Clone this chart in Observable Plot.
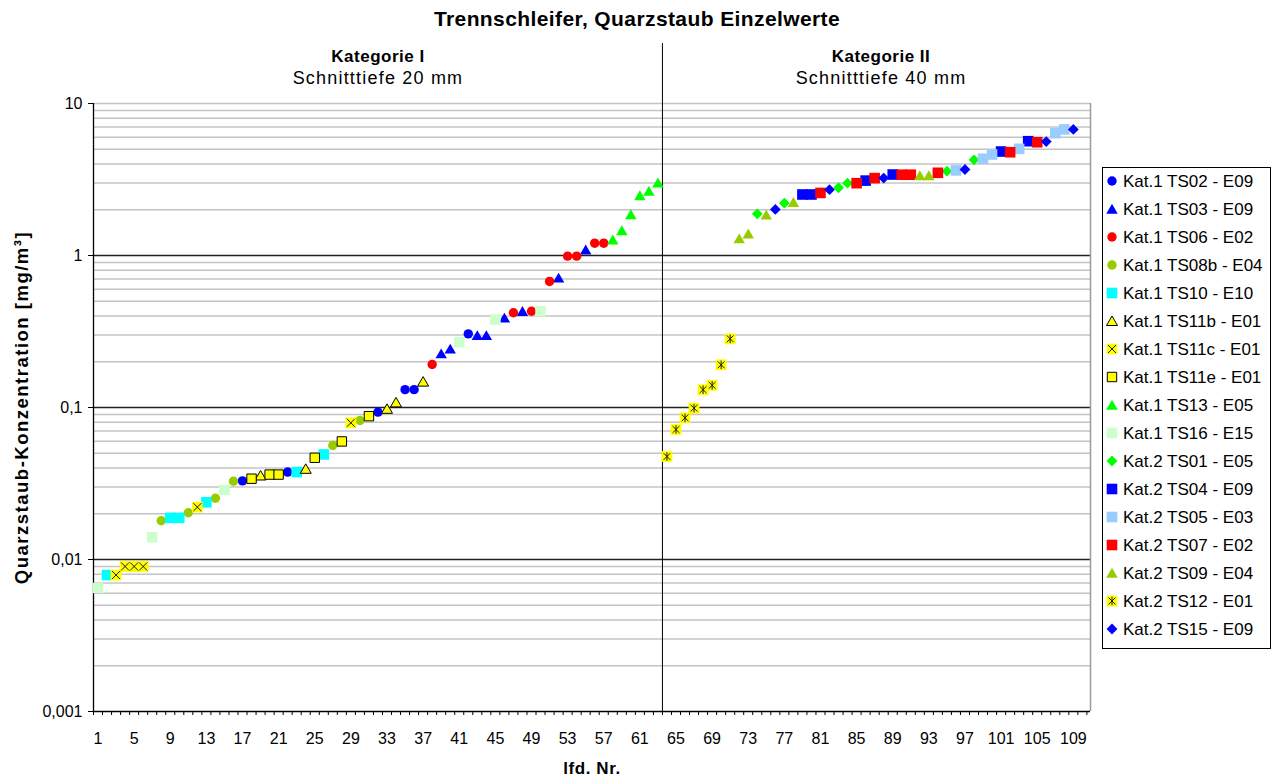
<!DOCTYPE html>
<html>
<head>
<meta charset="utf-8">
<script src="https://cdn.jsdelivr.net/npm/d3@7"></script>
<script src="https://cdn.jsdelivr.net/npm/@observablehq/plot@0.6"></script>
<style>
  body { margin: 0; background: #fff; font-family: "Liberation Sans", Arial, sans-serif; }
  #chart { position: relative; width: 1274px; height: 778px; overflow: hidden; }
  #title { position: absolute; left: 0; top: 7px; width: 1274px; text-align: center;
           font-weight: bold; font-size: 21px; letter-spacing: 0.4px; color: #000; }
</style>
</head>
<body>
<div id="chart">
  <div id="title">Trennschleifer, Quarzstaub Einzelwerte</div>
</div>
<script>
// Series (legend order)
const seriesKeys = ["TS02", "TS03", "TS06", "TS08b", "TS10", "TS11b", "TS11c", "TS11e", "TS13", "TS16",
                    "TS01", "TS04", "TS05", "TS07", "TS09", "TS12", "TS15"];
const seriesLabels = ["Kat.1 TS02 - E09", "Kat.1 TS03 - E09", "Kat.1 TS06 - E02", "Kat.1 TS08b - E04",
                      "Kat.1 TS10 - E10", "Kat.1 TS11b - E01", "Kat.1 TS11c - E01", "Kat.1 TS11e - E01",
                      "Kat.1 TS13 - E05", "Kat.1 TS16 - E15", "Kat.2 TS01 - E05", "Kat.2 TS04 - E09",
                      "Kat.2 TS05 - E03", "Kat.2 TS07 - E02", "Kat.2 TS09 - E04", "Kat.2 TS12 - E01",
                      "Kat.2 TS15 - E09"];

// Individual measurements, lfd. Nr. 1..109 in order
const pointSeries = [
  "TS16", "TS10", "TS11c", "TS11c", "TS11c", "TS11c", "TS16", "TS08b", "TS10", "TS10",
  "TS08b", "TS11c", "TS10", "TS08b", "TS16", "TS08b", "TS02", "TS11e", "TS11b", "TS11e",
  "TS11e", "TS02", "TS10", "TS11b", "TS11e", "TS10", "TS08b", "TS11e", "TS11c", "TS08b",
  "TS11e", "TS02", "TS11b", "TS11b", "TS02", "TS02", "TS11b", "TS06", "TS03", "TS03",
  "TS16", "TS02", "TS03", "TS03", "TS16", "TS03", "TS06", "TS03", "TS06", "TS16",
  "TS06", "TS03", "TS06", "TS06", "TS03", "TS06", "TS06", "TS13", "TS13", "TS13",
  "TS13", "TS13", "TS13",
  "TS12", "TS12", "TS12", "TS12", "TS12", "TS12", "TS12", "TS12", "TS09", "TS09",
  "TS01", "TS09", "TS15", "TS01", "TS09", "TS04", "TS04", "TS07", "TS15", "TS01",
  "TS01", "TS07", "TS04", "TS07", "TS15", "TS04", "TS07", "TS07", "TS09", "TS09",
  "TS07", "TS01", "TS05", "TS15", "TS01", "TS05", "TS05", "TS04", "TS07", "TS05",
  "TS04", "TS07", "TS15", "TS05", "TS05", "TS15"
];
const pointValues = [
  0.0065, 0.0079, 0.0079, 0.009, 0.009, 0.009, 0.014, 0.018, 0.0188, 0.0188,
  0.0203, 0.0221, 0.0238, 0.0253, 0.0287, 0.0327, 0.0329, 0.034, 0.0357, 0.0362,
  0.0362, 0.0376, 0.0376, 0.0395, 0.0467, 0.0491, 0.0562, 0.0598, 0.0793, 0.0821,
  0.0877, 0.0932, 0.098, 0.108, 0.131, 0.131, 0.148, 0.192, 0.226, 0.243,
  0.269, 0.305, 0.298, 0.298, 0.379, 0.389, 0.42, 0.43, 0.43, 0.43,
  0.675, 0.713, 0.99, 0.99, 1.09, 1.205, 1.205, 1.27, 1.46, 1.86,
  2.48, 2.65, 3.01,
  0.0476, 0.0717, 0.0855, 0.099, 0.131, 0.14, 0.191, 0.283, 1.29, 1.39,
  1.88, 1.85, 2.01, 2.21, 2.24, 2.52, 2.52, 2.58, 2.71, 2.79,
  2.99, 2.99, 3.11, 3.23, 3.23, 3.41, 3.4, 3.4, 3.36, 3.36,
  3.5, 3.59, 3.63, 3.68, 4.26, 4.33, 4.62, 4.83, 4.78, 5.03,
  5.65, 5.56, 5.62, 6.38, 6.75, 6.75
];

// Category groups (by lfd. Nr.)
const groupTitles = ["Kategorie I", "Kategorie II"];
const groupSubtitles = ["Schnitttiefe 20 mm", "Schnitttiefe 40 mm"];
const groupRanges = [[1, 63], [64, 109]];

// Axis ticks
const yTicks = [0.001, 0.01, 0.1, 1, 10];
const yTickLabels = ["0,001", "0,01", "0,1", "1", "10"];
const xTickLabels = [1, 5, 9, 13, 17, 21, 25, 29, 33, 37, 41, 45, 49, 53, 57, 61, 65, 69, 73, 77, 81, 85, 89, 93, 97, 101, 105, 109];

const xTitle = "lfd. Nr.";
const yTitle = "Quarzstaub-Konzentration [mg/m³]";

// Marker shapes in the style of spreadsheet chart markers; r = half width
const rOf = size => Math.sqrt(size / Math.PI);
const shapes = {
  circle: {draw(c, s) { const r = rOf(s); c.moveTo(r, 0); c.arc(0, 0, r, 0, 2 * Math.PI); }},
  square: {draw(c, s) { const r = rOf(s); c.rect(-r, -r, 2 * r, 2 * r); }},
  triangle: {draw(c, s) { const r = rOf(s); c.moveTo(0, -r); c.lineTo(r * 1.1, r * 0.9); c.lineTo(-r * 1.1, r * 0.9); c.closePath(); }},
  diamond: {draw(c, s) { const r = rOf(s); c.moveTo(0, -r); c.lineTo(r, 0); c.lineTo(0, r); c.lineTo(-r, 0); c.closePath(); }},
  cross: {draw(c, s) { const r = rOf(s); c.moveTo(-r, -r); c.lineTo(r, r); c.moveTo(-r, r); c.lineTo(r, -r); }},
  star: {draw(c, s) { const r = rOf(s); c.moveTo(0, -r); c.lineTo(0, r); c.moveTo(-r * 0.8, -r * 0.8); c.lineTo(r * 0.8, r * 0.8); c.moveTo(-r * 0.8, r * 0.8); c.lineTo(r * 0.8, -r * 0.8); }}
};

const styles = {
  TS02:  {shape: "circle",   fill: "#0000FF", r: 4.7},
  TS03:  {shape: "triangle", fill: "#0000FF", r: 5.2},
  TS06:  {shape: "circle",   fill: "#FF0000", r: 4.7},
  TS08b: {shape: "circle",   fill: "#99CC00", r: 4.7},
  TS10:  {shape: "square",   fill: "#00FFFF", r: 5.3},
  TS11b: {shape: "triangle", fill: "#FFFF00", stroke: "#000", r: 5.0},
  TS11c: {shape: "square",   fill: "#FFFF00", r: 5.4, overlay: "cross", overlayR: 4},
  TS11e: {shape: "square",   fill: "#FFFF00", stroke: "#000", r: 4.7},
  TS13:  {shape: "triangle", fill: "#00FF00", r: 5.2},
  TS16:  {shape: "square",   fill: "#CCFFCC", r: 5.3},
  TS01:  {shape: "diamond",  fill: "#00FF00", r: 5.4},
  TS04:  {shape: "square",   fill: "#0000FF", r: 5.3},
  TS05:  {shape: "square",   fill: "#99CCFF", r: 5.3},
  TS07:  {shape: "square",   fill: "#FF0000", r: 5.3},
  TS09:  {shape: "triangle", fill: "#99CC00", r: 5.2},
  TS12:  {shape: "square",   fill: "#FFFF00", r: 5.4, overlay: "star", overlayR: 4.3},
  TS15:  {shape: "diamond",  fill: "#0000FF", r: 5.4}
};

const rows = pointValues.map((value, i) => ({nr: i + 1, value, series: pointSeries[i]}));

const xDomain = [0.5, 110.9];
const divider = (groupRanges[0][1] + groupRanges[1][0]) / 2;
const groups = groupTitles.map((title, i) => ({
  title,
  subtitle: groupSubtitles[i],
  center: i === 0 ? (xDomain[0] + divider) / 2 : (divider + xDomain[1]) / 2 + 0.5
}));

// Light grid lines for 2..9 within each decade, darker ones at the decades
const minorGrid = yTicks.slice(0, -1).flatMap(d => d3.range(2, 10).map(k => k * d));
const xBoundaries = d3.range(xDomain[0], 111, 1);

const seriesMarks = seriesKeys.flatMap(key => {
  const st = styles[key];
  const data = rows.filter(d => d.series === key);
  const marks = [Plot.dot(data, {
    x: "nr", y: "value", symbol: shapes[st.shape], r: st.r,
    fill: st.fill, stroke: st.stroke || "none", strokeWidth: 1
  })];
  if (st.overlay) {
    marks.push(Plot.dot(data, {
      x: "nr", y: "value", symbol: shapes[st.overlay], r: st.overlayR,
      fill: "none", stroke: "#1a1a1a", strokeWidth: 1
    }));
  }
  return marks;
});

const chart = Plot.plot({
  width: 1274,
  height: 778,
  marginLeft: 93,
  marginRight: 184,
  marginTop: 103,
  marginBottom: 67,
  style: {fontFamily: "'Liberation Sans', Arial, sans-serif", color: "#000", background: "transparent",
          position: "absolute", left: "0px", top: "0px"},
  x: {type: "linear", domain: xDomain, axis: null},
  y: {type: "log", domain: [yTicks[0], yTicks[yTicks.length - 1]], axis: null},
  marks: [
    Plot.ruleY(minorGrid.concat([10]), {stroke: "#c4c4c4", strokeWidth: 1.5}),
    Plot.ruleY(yTicks.slice(1, -1), {stroke: "#222", strokeWidth: 1.3}),
    Plot.ruleX([xDomain[1]], {stroke: "#9a9a9a", strokeWidth: 1.5}),
    Plot.ruleX([divider], {stroke: "#000", strokeWidth: 1, insetTop: -60}),
    Plot.ruleX([xDomain[0]], {stroke: "#000", strokeWidth: 1.3}),
    Plot.ruleY([yTicks[0]], {stroke: "#000", strokeWidth: 1.3}),
    Plot.axisY(yTicks, {
      tickSize: 5, tickPadding: 6, fontSize: 16, label: null,
      tickFormat: d => yTickLabels[yTicks.indexOf(d)]
    }),
    Plot.axisX(xBoundaries, {tickSize: 4, tickFormat: () => "", label: null}),
    Plot.text(xTickLabels, {x: d => d, text: d => String(d), frameAnchor: "bottom", lineAnchor: "middle", dy: 27, fontSize: 16}),
    ...seriesMarks,
    Plot.text(groups, {x: "center", text: "title", frameAnchor: "top", lineAnchor: "middle", dy: -47, fontWeight: "bold", fontSize: 17}),
    Plot.text(groups, {x: "center", text: "subtitle", frameAnchor: "top", lineAnchor: "middle", dy: -25, fontSize: 18}),
    Plot.text([xTitle], {frameAnchor: "bottom", lineAnchor: "middle", dy: 57, fontWeight: "bold", fontSize: 17}),
    Plot.text([yTitle], {
      frameAnchor: "left", textAnchor: "middle", dx: -71, rotate: -90,
      fontWeight: "bold", fontSize: 18.5
    })
  ]
});
document.getElementById("chart").appendChild(chart);

// Slightly wider letter spacing for the header and axis titles
const spacing = new Map([
  [groupTitles[0], 0.5], [groupTitles[1], 0.5],
  [groupSubtitles[0], 1.2], [groupSubtitles[1], 1.2],
  [xTitle, 0.6], [yTitle, 1.5]
]);
d3.select(chart).selectAll("text")
  .filter(function() { return spacing.has(this.textContent); })
  .style("letter-spacing", function() { return spacing.get(this.textContent) + "px"; });

// Legend box on the right
const legendW = 169, legendH = 482, rowStep = 28, rowTop = 14;
const legend = d3.select("#chart").append("svg")
  .attr("width", legendW)
  .attr("height", legendH)
  .style("position", "absolute")
  .style("left", "1102px")
  .style("top", "167px")
  .style("font-family", "'Liberation Sans', Arial, sans-serif");
legend.append("rect")
  .attr("x", 0.5).attr("y", 0.5)
  .attr("width", legendW - 1).attr("height", legendH - 1)
  .attr("fill", "#fff").attr("stroke", "#000");
seriesKeys.forEach((key, i) => {
  const st = styles[key];
  const g = legend.append("g").attr("transform", `translate(10,${rowTop + i * rowStep})`);
  g.append("path")
    .attr("d", d3.symbol(shapes[st.shape], Math.PI * st.r * st.r)())
    .attr("fill", st.fill)
    .attr("stroke", st.stroke || "none");
  if (st.overlay) {
    g.append("path")
      .attr("d", d3.symbol(shapes[st.overlay], Math.PI * st.overlayR * st.overlayR)())
      .attr("fill", "none")
      .attr("stroke", "#1a1a1a");
  }
  g.append("text")
    .attr("x", 11)
    .attr("dy", "0.35em")
    .attr("font-size", 17)
    .text(seriesLabels[i]);
});
</script>
</body>
</html>
